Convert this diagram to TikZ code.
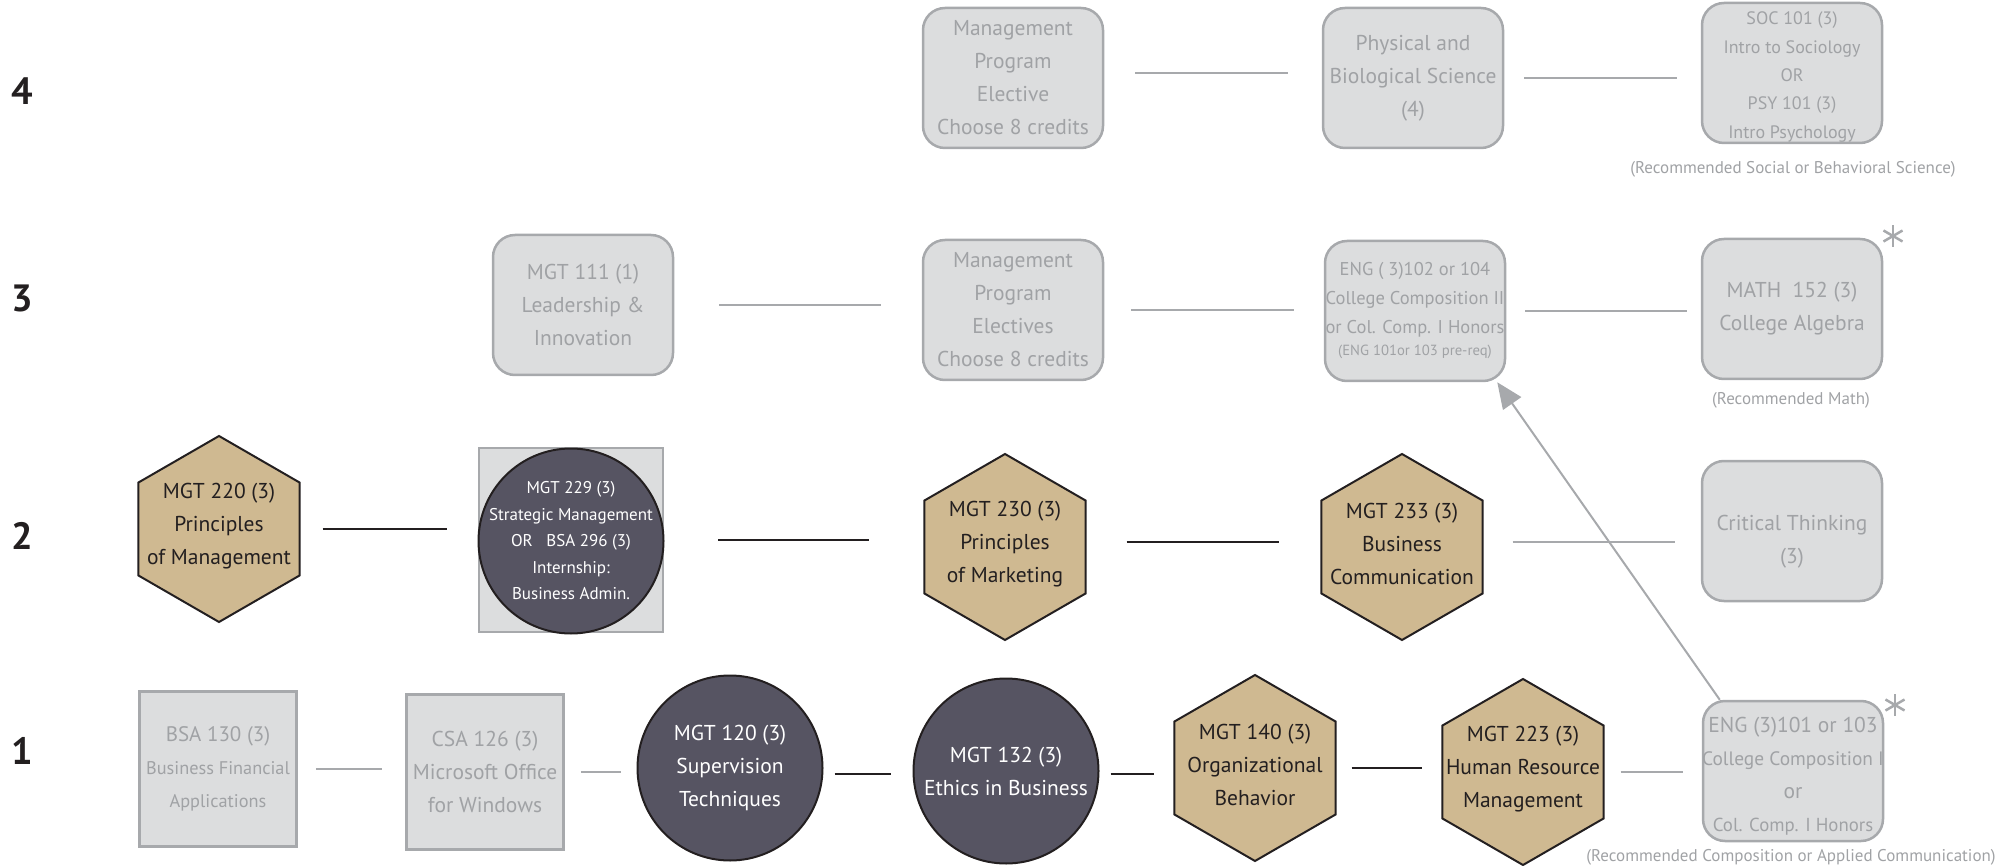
\documentclass[tikz,border=0pt]{standalone}
\usepackage{fontspec}
\setmainfont{PT Sans}
\usetikzlibrary{shapes.geometric,arrows.meta}

\definecolor{boxfill}{RGB}{220,221,222}
\definecolor{boxline}{RGB}{167,169,172}
\definecolor{boxtext}{RGB}{160,162,165}
\definecolor{hexfill}{RGB}{207,185,145}
\definecolor{circfill}{RGB}{86,84,98}
\definecolor{inkblack}{RGB}{35,31,32}

\tikzset{
  gencourse/.style={draw=boxline, fill=boxfill, line width=2.5pt, rounded corners=22pt,
    minimum width=180pt, minimum height=140pt, inner sep=0pt, align=center,
    text=boxtext, font=\fontsize{21.5}{33}\selectfont},
  greytext/.style={align=center, text=boxtext, font=\fontsize{21.5}{33}\selectfont},
  cisbox/.style={gencourse, sharp corners, minimum width=157pt, minimum height=155pt},
  hexcourse/.style={regular polygon, regular polygon sides=6, shape border rotate=30,
    minimum size=186pt, inner sep=0pt, draw=inkblack, line width=2pt, fill=hexfill},
  hextext/.style={align=center, text=inkblack, font=\fontsize{21.5}{33}\selectfont, yshift=3pt},
  mgtcircle/.style={circle, minimum size=185pt, inner sep=0pt, draw=inkblack,
    line width=2pt, fill=circfill},
  circtext/.style={align=center, text=white, font=\fontsize{21.5}{33}\selectfont},
  reqline/.style={draw=inkblack, line width=2.5pt},
  optline/.style={draw=boxline, line width=2.5pt},
  rowno/.style={font=\fontsize{38}{38}\selectfont\bfseries, text=inkblack},
  recnote/.style={text=boxtext, font=\fontsize{17}{18}\selectfont, inner sep=0pt},
}

\begin{document}
\begin{tikzpicture}[x=1pt, y=-1pt]
\useasboundingbox (0,0) rectangle (2013,866);

% year numbers
\node[rowno] (year4) at (22,91) {4};
\node[rowno] (year3) at (22,298) {3};
\node[rowno] (year2) at (22,536) {2};
\node[rowno] (year1) at (22,751) {1};

% row 4
\node[gencourse] (elec4) at (1013,78) {Management\\Program\\Elective\\Choose 8 credits};
\node[gencourse] (phys) at (1413,78) {Physical and\\Biological Science\\(4)};
\node[gencourse, label={[greytext, font=\fontsize{18}{28.3}\selectfont, yshift=-4pt]center:{SOC 101 (3)\\Intro to Sociology\\OR\\PSY 101 (3)\\Intro Psychology}}]
  (soc) at (1792,73) {};
\node[recnote] (socnote) at (1793,169) {(Recommended Social or Behavioral Science)};
\draw[optline, shorten <=31pt, shorten >=34pt]
  ([yshift=5pt]elec4.east) -- ([yshift=5pt]elec4.east -| phys.west);
\draw[optline, shorten <=20pt, shorten >=24pt] (phys.east) -- (phys.east -| soc.west);

% row 3
\node[gencourse] (mgt111) at (583,305) {MGT 111 (1)\\Leadership \&\\Innovation};
\node[gencourse] (elec3) at (1013,310) {Management\\Program\\Electives\\Choose 8 credits};
\node[gencourse, font=\fontsize{18.5}{29}\selectfont] (eng102) at (1415,311)
  {ENG ( 3)102 or 104\\College Composition II\\or Col. Comp. I Honors\\[-7pt]
   {\fontsize{14.7}{20}\selectfont (ENG 101or 103 pre-req)}};
\node[gencourse] (math) at (1792,309) {MATH\ \ 152 (3)\\College Algebra};
\node[recnote] (mathnote) at (1791,400) {(Recommended Math)};
\coordinate (mathstar) at (1893,236);
\foreach \a in {30,90,150}
  \draw[optline, line width=2.5pt] (mathstar) ++(\a:11) -- ++(\a+180:22);
\draw[optline, shorten <=45pt, shorten >=41pt] (mgt111.east) -- (mgt111.east -| elec3.west);
\draw[optline, shorten <=27pt, shorten >=30pt] (elec3.east) -- (elec3.east -| eng102.west);
\draw[optline, shorten <=19pt, shorten >=14pt] (eng102.east) -- (eng102.east -| math.west);

% row 2
\node[hexcourse, label={[hextext]center:{MGT 220 (3)\\Principles\\of Management}}]
  (mgt220) at (219,529) {};
\node[cisbox, minimum width=184pt, minimum height=184pt] (mgt229box) at (571,540) {};
\node[mgtcircle, label={[circtext, font=\fontsize{17}{26.5}\selectfont]center:{MGT 229 (3)\\Strategic Management\\OR\ \ \ BSA 296 (3)\\Internship:\\Business Admin.}}]
  (mgt229) at (571,541) {};
\node[hexcourse, label={[hextext]center:{MGT 230 (3)\\Principles\\of Marketing}}]
  (mgt230) at (1005,547) {};
\node[hexcourse, label={[hextext]center:{MGT 233 (3)\\Business\\Communication}}]
  (mgt233) at (1402,547) {};
\node[gencourse, label={[greytext, yshift=-11pt]center:{Critical Thinking\\(3)}}]
  (critical) at (1792,531) {};
\draw[reqline, shorten <=22pt, shorten >=31pt] (mgt220.east) -- (mgt220.east -| mgt229box.west);
\draw[reqline, shorten <=54pt, shorten >=54pt] (mgt229box.east) -- (mgt229box.east -| mgt230.west);
\draw[reqline, shorten <=40pt, shorten >=41pt]
  ([yshift=5pt]mgt230.east) -- ([yshift=5pt]mgt230.east -| mgt233.west);
\draw[optline, shorten <=29pt, shorten >=26pt]
  ([yshift=5pt]mgt233.east) -- ([yshift=5pt]mgt233.east -| critical.west);

% row 1
\node[cisbox] (bsa130) at (218,769)
  {{\fontsize{21}{30}\selectfont BSA 130 (3)}\\{\fontsize{18.3}{28}\selectfont Business Financial}\\{\fontsize{18.3}{28}\selectfont Applications}};
\node[cisbox] (csa126) at (485,772) {CSA 126 (3)\\Microsoft Office\\for Windows};
\node[mgtcircle, label={[circtext]center:{MGT 120 (3)\\Supervision\\Techniques}}]
  (mgt120) at (730,768) {};
\node[mgtcircle, label={[circtext]center:{MGT 132 (3)\\Ethics in Business}}]
  (mgt132) at (1006,771) {};
\node[hexcourse, label={[hextext]center:{MGT 140 (3)\\Organizational\\Behavior}}]
  (mgt140) at (1255,768) {};
\node[hexcourse, label={[hextext]center:{MGT 223 (3)\\Human Resource\\Management}}]
  (mgt223) at (1523,772) {};
\node[gencourse, label={[greytext, yshift=-5pt]center:{ENG (3)101 or 103\\{\fontsize{19.4}{33}\selectfont College Composition I}\\or\\{\fontsize{18.8}{33}\selectfont Col. Comp. I Honors}}}]
  (eng101) at (1793,771) {};
\node[recnote] (engnote) at (1791,857) {(Recommended Composition or Applied Communication)};
\coordinate (engstar) at (1895,705);
\foreach \a in {30,90,150}
  \draw[optline, line width=2.5pt] (engstar) ++(\a:11) -- ++(\a+180:22);
\draw[optline, shorten <=18pt, shorten >=23pt] (bsa130.east) -- (bsa130.east -| csa126.west);
\draw[optline, shorten <=16pt, shorten >=16pt] (csa126.east) -- (csa126.east -| mgt120.west);
\draw[reqline, shorten <=11pt, shorten >=22pt]
  ([yshift=-6pt]mgt120.east) -- ([yshift=-6pt]mgt120.east -| mgt132.west);
\draw[reqline, shorten <=11pt, shorten >=19pt]
  ([yshift=-3pt]mgt132.east) -- ([yshift=-3pt]mgt132.east -| mgt140.west);
\draw[reqline, shorten <=15pt, shorten >=19pt] (mgt140.east) -- (mgt140.east -| mgt223.west);
\draw[optline, shorten <=16pt, shorten >=19pt] (mgt223.east) -- (mgt223.east -| eng101.west);

% prerequisite arrow
\draw[optline, line width=2pt, -{Triangle[length=26pt, width=22pt]}]
  ([xshift=18pt]eng101.north west) -- ([xshift=-9pt]eng102.south east);
\end{tikzpicture}
\end{document}
